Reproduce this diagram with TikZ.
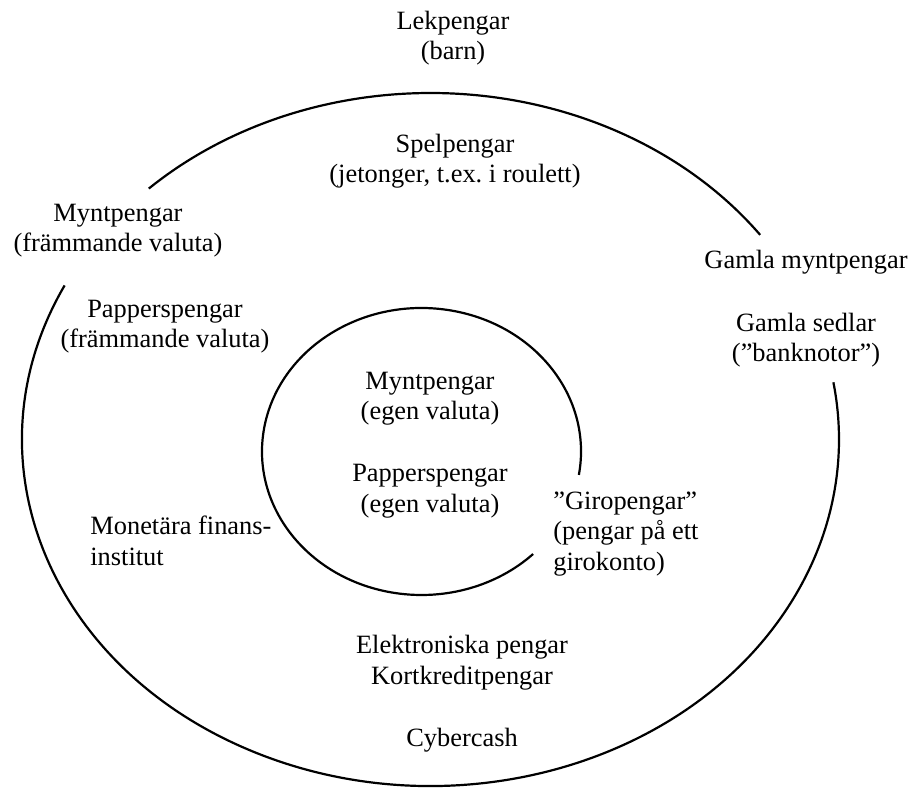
\documentclass[tikz,border=0pt]{standalone}
\usepackage{fontspec}
\setmainfont{Liberation Serif}
\usepackage{tikz}
\usetikzlibrary{positioning}

\tikzset{
	lbl/.style={inner sep=0pt, align=center, anchor=base, font=\fontsize{13.2}{15.25}\selectfont},
	lbll/.style={lbl, align=left, anchor=base west},
	ring/.style={line width=1.1pt}
}

\begin{document}
\begin{tikzpicture}[x=0.5pt,y=0.5pt]
	\useasboundingbox (0,0) rectangle (913,787);
	% outer ring (two arcs)
	\coordinate (ytter) at (430.5,347.5);
	\draw[ring] (ytter) ++(36.2:408.5 and 346.5) arc[start angle=36.2, end angle=133.6, x radius=408.5, y radius=346.5];
	\draw[ring] (ytter) ++(153.6:408.5 and 346.5) arc[start angle=153.6, end angle=369.5, x radius=408.5, y radius=346.5];
	% inner ring
	\coordinate (inre) at (421.5,335.5);
	\draw[ring] (inre) ++(-9.4:159.5 and 143.5) arc[start angle=-9.4, end angle=314.4, x radius=159.5, y radius=143.5];
	
	% base = last line
	\node[lbl] (lek) at (453,727) {Lekpengar\\(barn)};
	\node[lbl] (spel) at (455,604) {Spelpengar\\(jetonger, t.ex.\ i roulett)};
	\node[lbl] (myntfr) at (118,535) {Myntpengar\\(främmande valuta)};
	\node[lbl] (papfr) at (165,439) {Papperspengar\\(främmande valuta)};
	\node[lbl] (gamlamynt) at (806,518) {Gamla myntpengar};
	\node[lbl] (gamlasedel) at (806,425) {Gamla sedlar\\(”banknotor”)};
	\node[lbl] (myntegen) at (430,367) {Myntpengar\\(egen valuta)};
	\node[lbl] (papegen) at (430,275) {Papperspengar\\(egen valuta)};
	\node[lbll] (giro) at (553,217) {”Giropengar”\\(pengar på ett\\girokonto)};
	\node[lbll] (mfi) at (90,222) {Monetära finans-\\institut};
	\node[lbl] (elektr) at (462,103) {Elektroniska pengar\\Kortkreditpengar};
	\node[lbl] (cyber) at (462,41) {Cybercash};
\end{tikzpicture}
\end{document}
